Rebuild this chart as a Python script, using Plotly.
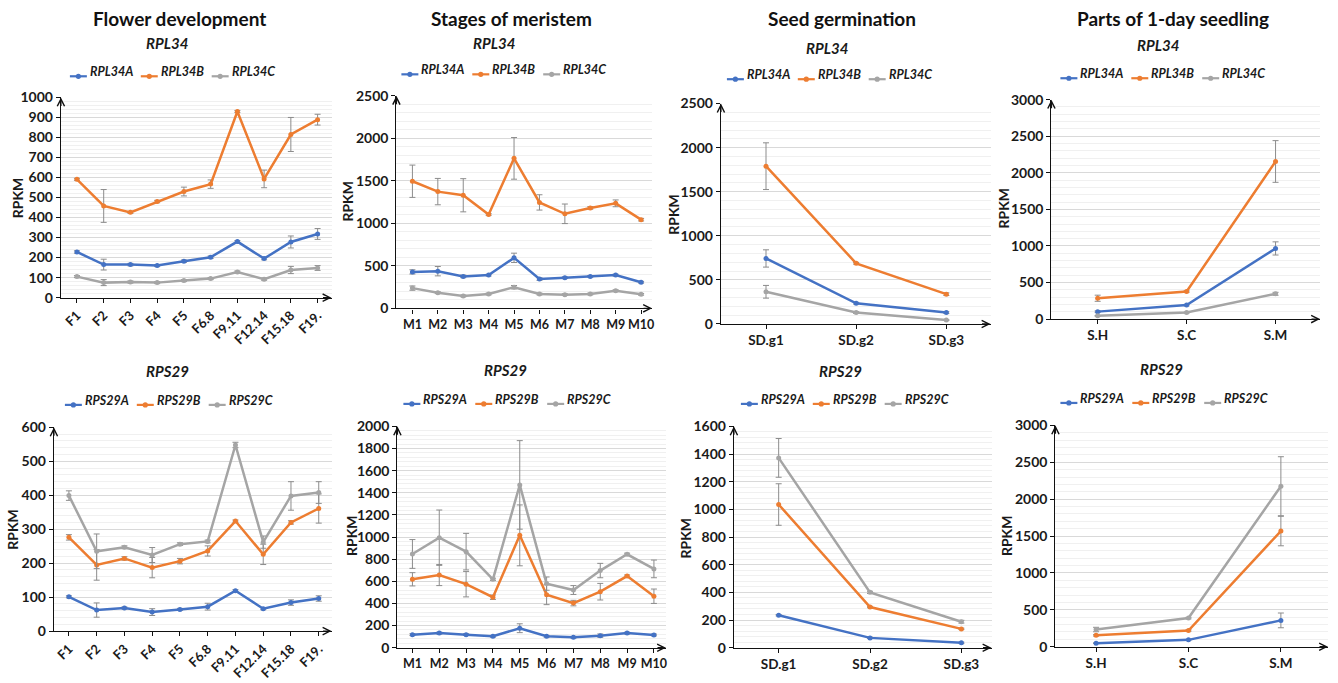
import plotly.graph_objects as go

W, H = 1338, 683

# ---------------- data ----------------
flower_cats = ["F1", "F2", "F3", "F4", "F5", "F6.8", "F9.11", "F12.14", "F15.18", "F19."]
meristem_cats = ["M1", "M2", "M3", "M4", "M5", "M6", "M7", "M8", "M9", "M10"]
seed_cats = ["SD.g1", "SD.g2", "SD.g3"]
seedling_cats = ["S.H", "S.C", "S.M"]

# RPL34 - flower development
fl_rpl34a = [228, 165, 165, 160, 182, 202, 280, 195, 278, 318]
fl_rpl34a_err = [6, 27, 6, 5, 6, 6, 5, 6, 30, 27]
fl_rpl34b = [591, 458, 426, 480, 530, 567, 930, 593, 815, 889]
fl_rpl34b_err = [5, 82, 5, 6, 22, 21, 5, 44, 85, 27]
fl_rpl34c = [105, 75, 78, 75, 85, 95, 128, 92, 138, 148]
fl_rpl34c_err = [5, 15, 5, 5, 5, 5, 5, 5, 18, 12]

# RPL34 - stages of meristem
me_rpl34a = [429, 437, 376, 391, 594, 345, 360, 376, 391, 307]
me_rpl34a_err = [25, 55, 15, 10, 55, 15, 10, 10, 10, 10]
me_rpl34b = [1495, 1373, 1330, 1104, 1764, 1246, 1112, 1181, 1235, 1043]
me_rpl34b_err = [190, 155, 195, 10, 245, 90, 115, 15, 40, 15]
me_rpl34c = [238, 184, 146, 169, 249, 169, 161, 169, 207, 165]
me_rpl34c_err = [25, 10, 10, 10, 20, 10, 10, 10, 10, 10]

# RPL34 - seed germination
sd_rpl34a = [743, 235, 129]
sd_rpl34a_err = [98, 10, 10]
sd_rpl34b = [1790, 688, 338]
sd_rpl34b_err = [265, 10, 15]
sd_rpl34c = [365, 129, 44]
sd_rpl34c_err = [72, 10, 5]

# RPL34 - parts of 1-day seedling
sl_rpl34a = [102, 191, 966]
sl_rpl34a_err = [10, 10, 90]
sl_rpl34b = [285, 377, 2155]
sl_rpl34b_err = [42, 10, 285]
sl_rpl34c = [44, 89, 346]
sl_rpl34c_err = [5, 5, 20]

# RPS29 - flower development
fl_rps29a = [101, 62, 68, 56, 64, 72, 119, 66, 84, 96]
fl_rps29a_err = [3, 21, 3, 10, 3, 10, 3, 3, 8, 8]
fl_rps29b = [276, 195, 214, 187, 206, 236, 324, 226, 320, 361]
fl_rps29b_err = [8, 45, 5, 30, 8, 15, 3, 30, 5, 43]
fl_rps29c = [399, 235, 247, 224, 256, 264, 548, 262, 398, 408]
fl_rps29c_err = [14, 51, 4, 22, 4, 4, 8, 18, 42, 32]

# RPS29 - stages of meristem
me_rps29a = [118, 132, 118, 103, 176, 103, 94, 109, 132, 115]
me_rps29a_err = [8, 8, 8, 8, 40, 8, 8, 15, 8, 8]
me_rps29b = [618, 656, 574, 456, 1015, 479, 403, 506, 647, 465]
me_rps29b_err = [60, 95, 115, 20, 275, 90, 25, 75, 10, 65]
me_rps29c = [847, 994, 868, 618, 1471, 579, 521, 697, 844, 712]
me_rps29c_err = [130, 250, 165, 10, 400, 60, 40, 65, 10, 80]

# RPS29 - seed germination
sd_rps29a = [235, 71, 35]
sd_rps29a_err = [5, 5, 5]
sd_rps29b = [1035, 294, 136]
sd_rps29b_err = [150, 5, 5]
sd_rps29c = [1372, 400, 188]
sd_rps29c_err = [140, 8, 10]

# RPS29 - parts of 1-day seedling
sl_rps29a = [48, 93, 357]
sl_rps29a_err = [5, 5, 100]
sl_rps29b = [154, 220, 1568]
sl_rps29b_err = [10, 10, 200]
sl_rps29c = [233, 388, 2175]
sl_rps29c_err = [30, 10, 400]

column_titles = ["Flower development", "Stages of meristem", "Seed germination", "Parts of 1-day seedling"]
gene_titles = ["RPL34", "RPS29"]

# ---------------- styling ----------------
COLORS = ["#4472C4", "#ED7D31", "#A5A5A5"]
ERR_COLOR = "#8c8c8c"
FONT = "Lato"

panels = [
    dict(gene="RPL34", cats=flower_cats,
         series=[(fl_rpl34a, fl_rpl34a_err), (fl_rpl34b, fl_rpl34b_err), (fl_rpl34c, fl_rpl34c_err)],
         ymax=1000, dtick=100, xpix=(61, 332), ypix=(296, 90.7), xr=(-0.6, 9.52),
         leg=(70, 69), sub=(167, 42), rpkm=(17, 193), angle=-45, xfs=13),
    dict(gene="RPL34", cats=meristem_cats,
         series=[(me_rpl34a, me_rpl34a_err), (me_rpl34b, me_rpl34b_err), (me_rpl34c, me_rpl34c_err)],
         ymax=2500, dtick=500, xpix=(397, 653), ypix=(307, 89), xr=(-0.63, 9.43),
         leg=(402, 67), sub=(495, 42), rpkm=(348, 197), angle=0, xfs=12.5),
    dict(gene="RPL34", cats=seed_cats,
         series=[(sd_rpl34a, sd_rpl34a_err), (sd_rpl34b, sd_rpl34b_err), (sd_rpl34c, sd_rpl34c_err)],
         ymax=2500, dtick=500, xpix=(722, 992), ypix=(323, 97), xr=(-0.5, 2.49),
         leg=(728, 72), sub=(828, 47), rpkm=(675, 210), angle=0, xfs=13.5),
    dict(gene="RPL34", cats=seedling_cats,
         series=[(sl_rpl34a, sl_rpl34a_err), (sl_rpl34b, sl_rpl34b_err), (sl_rpl34c, sl_rpl34c_err)],
         ymax=3000, dtick=500, xpix=(1053, 1322), ypix=(318, 93), xr=(-0.52, 2.5),
         leg=(1062, 71), sub=(1160, 44), rpkm=(1005, 204), angle=0, xfs=13.5),
    dict(gene="RPS29", cats=flower_cats,
         series=[(fl_rps29a, fl_rps29a_err), (fl_rps29b, fl_rps29b_err), (fl_rps29c, fl_rps29c_err)],
         ymax=600, dtick=100, xpix=(54, 332), ypix=(638, 429), xr=(-0.54, 9.46),
         leg=(65, 406), sub=(168, 379), rpkm=(13, 533), angle=-45, xfs=13),
    dict(gene="RPS29", cats=meristem_cats,
         series=[(me_rps29a, me_rps29a_err), (me_rps29b, me_rps29b_err), (me_rps29c, me_rps29c_err)],
         ymax=2000, dtick=200, xpix=(398, 667), ypix=(655, 428), xr=(-0.56, 9.45),
         leg=(404, 405), sub=(506, 378), rpkm=(352, 540), angle=0, xfs=12.5),
    dict(gene="RPS29", cats=seed_cats,
         series=[(sd_rps29a, sd_rps29a_err), (sd_rps29b, sd_rps29b_err), (sd_rps29c, sd_rps29c_err)],
         ymax=1600, dtick=200, xpix=(735, 993), ypix=(655, 428), xr=(-0.49, 2.33),
         leg=(742, 405), sub=(842, 379), rpkm=(687, 542), angle=0, xfs=13.5),
    dict(gene="RPS29", cats=seedling_cats,
         series=[(sl_rps29a, sl_rps29a_err), (sl_rps29b, sl_rps29b_err), (sl_rps29c, sl_rps29c_err)],
         ymax=3000, dtick=500, xpix=(1057, 1330), ypix=(654, 427), xr=(-0.44, 2.51),
         leg=(1062, 404), sub=(1163, 377), rpkm=(1008, 540), angle=0, xfs=13.5),
]

col_title_pos = [(180, 17), (512, 17), (843, 17), (1175, 17)]

fig = go.Figure()
annotations = []
shapes = []
layout = dict(
    width=W, height=H,
    margin=dict(l=0, r=0, t=0, b=0),
    paper_bgcolor="white", plot_bgcolor="white",
    font=dict(family=FONT, color="#1a1a1a"),
    showlegend=False,
)


def px_x(p):
    return p / W


def px_y(p):
    return 1 - p / H


def text_y(p, size):
    # compensate the vertical offset of Lato's line box
    return px_y(p - 0.36 * size)


LEG_STEP = [71, 72]  # spacing between legend entries (px)
LINE_LEN = 17

for i, p in enumerate(panels):
    n = i + 1
    xa = "x" if n == 1 else f"x{n}"
    ya = "y" if n == 1 else f"y{n}"
    suffixes = ["A", "B", "C"]
    for k, (vals, errs) in enumerate(p["series"]):
        fig.add_trace(go.Scatter(
            x=p["cats"], y=vals,
            name=f"{p['gene']}{suffixes[k]}",
            mode="lines+markers",
            line=dict(color=COLORS[k], width=2.5),
            marker=dict(color=COLORS[k], size=5),
            error_y=dict(type="data", array=errs, visible=True,
                         color=ERR_COLOR, thickness=1, width=3),
            xaxis=xa, yaxis=ya,
        ))
        # legend entry (drawn manually to match compact Excel legend)
        lx0 = p["leg"][0] + k * (LEG_STEP[0] if p["gene"] == "RPL34" else LEG_STEP[1])
        ly = p["leg"][1]
        shapes.append(dict(type="line", xref="paper", yref="paper",
                           x0=px_x(lx0), x1=px_x(lx0 + LINE_LEN), y0=px_y(ly), y1=px_y(ly),
                           line=dict(color=COLORS[k], width=2.2)))
        shapes.append(dict(type="circle", xref="paper", yref="paper",
                           xsizemode="pixel", ysizemode="pixel",
                           xanchor=px_x(lx0 + LINE_LEN / 2), yanchor=px_y(ly),
                           x0=-2.6, x1=2.6, y0=-2.6, y1=2.6,
                           fillcolor=COLORS[k], line=dict(color=COLORS[k], width=0)))
        annotations.append(dict(
            text=f"<b><i>{p['gene']}{suffixes[k]}</i></b>", xref="paper", yref="paper",
            x=px_x(lx0 + LINE_LEN + 1), y=text_y(ly, 12.5), xanchor="left", yanchor="middle",
            showarrow=False, font=dict(family=FONT, size=12.5, color="#1a1a1a"),
        ))
    xkey = "xaxis" if n == 1 else f"xaxis{n}"
    ykey = "yaxis" if n == 1 else f"yaxis{n}"
    layout[xkey] = dict(
        domain=[px_x(p["xpix"][0]), px_x(p["xpix"][1])],
        anchor=ya, type="category", range=list(p["xr"]),
        showgrid=False, zeroline=False,
        showline=True, linecolor="#111111", linewidth=1.3,
        ticks="outside", ticklen=4, tickcolor="#111111", tickwidth=1,
        tickangle=p["angle"],
        tickfont=dict(family=FONT, size=p["xfs"], color="#1a1a1a", weight="bold"),
        fixedrange=True,
    )
    layout[ykey] = dict(
        domain=[px_y(p["ypix"][0]), px_y(p["ypix"][1])],
        anchor=xa, range=[0, p["ymax"]], dtick=p["dtick"], tick0=0,
        showgrid=True, gridcolor="#d9d9d9", gridwidth=1,
        minor=dict(dtick=p["dtick"] / 5, showgrid=True, gridcolor="#f0f0f0", gridwidth=1),
        zeroline=False,
        showline=True, linecolor="#111111", linewidth=1.3,
        ticks="outside", ticklen=4, tickcolor="#111111", tickwidth=1,
        tickfont=dict(family=FONT, size=14, color="#1a1a1a", weight="bold"),
        fixedrange=True,
    )
    # subtitle
    annotations.append(dict(
        text=f"<b><i>{p['gene']}</i></b>", xref="paper", yref="paper",
        x=px_x(p["sub"][0]), y=text_y(p["sub"][1] - 2, 15), xanchor="center", yanchor="middle",
        showarrow=False, font=dict(family=FONT, size=15, color="#1a1a1a"),
    ))
    # RPKM
    annotations.append(dict(
        text="<b>RPKM</b>", xref="paper", yref="paper",
        x=px_x(p["rpkm"][0]), y=px_y(p["rpkm"][1]), xanchor="center", yanchor="middle",
        textangle=-90, showarrow=False, font=dict(family=FONT, size=14, color="#1a1a1a"),
    ))
    # axis arrows
    annotations.append(dict(
        x=p["xr"][0], y=p["ymax"], xref=xa, yref=ya, ax=0, ay=10,
        showarrow=True, arrowhead=5, arrowsize=1.1, arrowwidth=1.3, arrowcolor="#111111", text="",
    ))
    annotations.append(dict(
        x=p["xr"][1], y=0, xref=xa, yref=ya, ax=-10, ay=0,
        showarrow=True, arrowhead=5, arrowsize=1.1, arrowwidth=1.3, arrowcolor="#111111", text="",
    ))

for t, (cx, cy) in zip(column_titles, col_title_pos):
    annotations.append(dict(
        text=f"<b>{t}</b>", xref="paper", yref="paper",
        x=px_x(cx), y=text_y(cy, 19), xanchor="center", yanchor="middle",
        showarrow=False, font=dict(family=FONT, size=19, color="#111111"),
    ))

layout["annotations"] = annotations
layout["shapes"] = shapes
fig.update_layout(**layout)
fig.write_html("out.html")
